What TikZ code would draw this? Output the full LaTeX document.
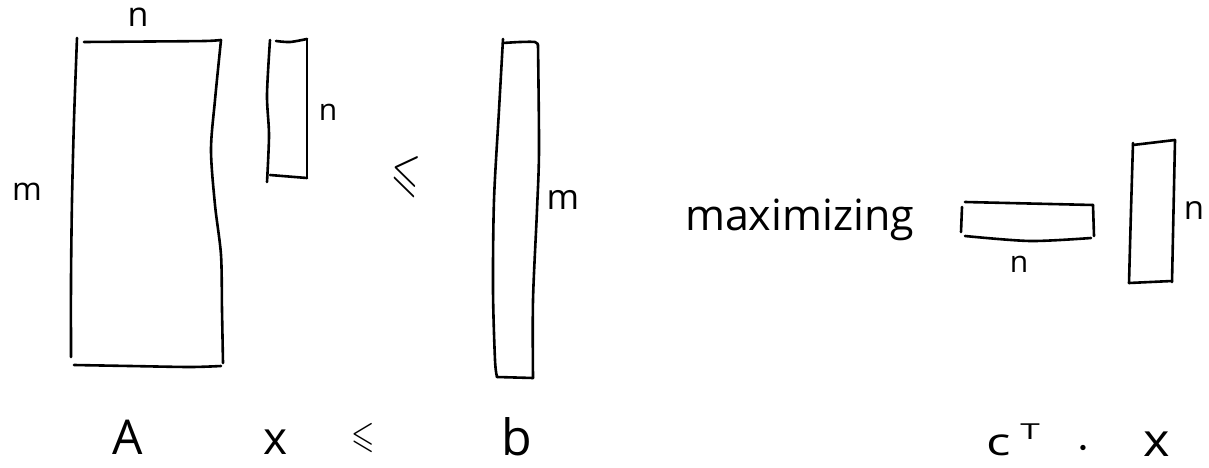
\documentclass[tikz,border=0pt]{standalone}
\usepackage{fontspec}
\usepackage{amssymb}
\setmainfont{Open Sans}
\newcommand\fsz[1]{\fontsize{#1}{#1}\selectfont}
\begin{document}
\begin{tikzpicture}[x=1pt,y=-1pt,
  hand/.style={line width=2.6pt, line cap=round, line join=round},
  lbl/.style={inner sep=0pt, outer sep=0pt}]
\useasboundingbox[fill=white] (0,0) rectangle (1209,468);

% ---- matrix A ----
\draw[hand] plot[smooth] coordinates {(77,38) (74,120) (72,200) (71,280) (71,357)};
\draw[hand] plot[smooth] coordinates {(84,42) (150,41.5) (205,41) (221,40)};
\draw[hand] plot[smooth] coordinates {(221,40) (215,100) (211,150) (215,205) (221,255) (222,310) (223,363)};
\draw[hand] plot[smooth] coordinates {(74,365) (130,366) (190,367) (221,366)};

% ---- vector x ----
\draw[hand] plot[smooth] coordinates {(270,40) (267,95) (269,135) (267,182)};
\draw[hand] plot[smooth] coordinates {(276,41) (290,42) (307,39)};
\draw[hand] (307,39) -- (307,178);
\draw[hand] (270,175) -- (307,178);

% ---- vector b ----
\draw[hand] plot[smooth] coordinates {(503,39) (499,110) (494,200) (493,290) (495,360) (497,377)};
\draw[hand] plot[smooth] coordinates {(503,43) (520,42) (535,42) (538,45)};
\draw[hand] plot[smooth] coordinates {(538,45) (539,150) (537,210) (533,300) (533,378)};
\draw[hand] (497,377) -- (533,378);

% ---- c^T (row) ----
\draw[hand] (965,202) -- (1093,205);
\draw[hand] (962,207) -- (961,232);
\draw[hand] (1093,205) -- (1094,236);
\draw[hand] plot[smooth] coordinates {(965,236) (1030,241) (1091,238)};

% ---- x (column) ----
\draw[hand] (1133,145) -- (1175,140);
\draw[hand] plot[smooth] coordinates {(1133,143) (1131,210) (1129,283)};
\draw[hand] (1175,140) -- (1172,282);
\draw[hand] (1129,283) -- (1172,281);

% ---- dimension labels ----
\node[lbl, font=\fsz{34}] (nA) at (138,17) {n};
\node[lbl, font=\fsz{32}] (mA) at (27,192) {m};
\node[lbl, font=\fsz{30}] (nx) at (328,112) {n};
\node[lbl] (leqbig) at (406,175) {\scalebox{3.6}[5.4]{\rotatebox{-8}{$\leqslant$}}};
\node[lbl, font=\fsz{35}] (mb) at (563,200) {m};
\node[lbl, font=\fsz{43}, anchor=base west] (maxi) at (685,230) {maximizing};
\node[lbl, font=\fsz{30}] (nc) at (1019,264) {n};
\node[lbl, font=\fsz{33}] (nv) at (1194,211) {n};

% ---- bottom labels ----
\node[lbl, font=\fsz{48}, anchor=base] (lA) at (128,454) {A};
\node[lbl, font=\fsz{46}, anchor=base] (lx) at (276,454) {x};
\node[lbl] (lleq) at (363,438) {\scalebox{3}[3.8]{$\leqslant$}};
\node[lbl, font=\fsz{50}, anchor=base] (lb) at (517,455) {b};
\node[lbl, font=\fsz{38}, anchor=base] (lc) at (999,455) {\scalebox{1.35}[1]{c}};
\node[lbl, font=\fsz{22}] (lT) at (1030,432) {\scalebox{1.6}[1]{T}};
\node[lbl] (ldot) at (1083,449) {\scalebox{5}{$\cdot$}};
\node[lbl, font=\fsz{46}, anchor=base] (lx2) at (1157,456) {\scalebox{1.1}[1]{x}};
\end{tikzpicture}
\end{document}
